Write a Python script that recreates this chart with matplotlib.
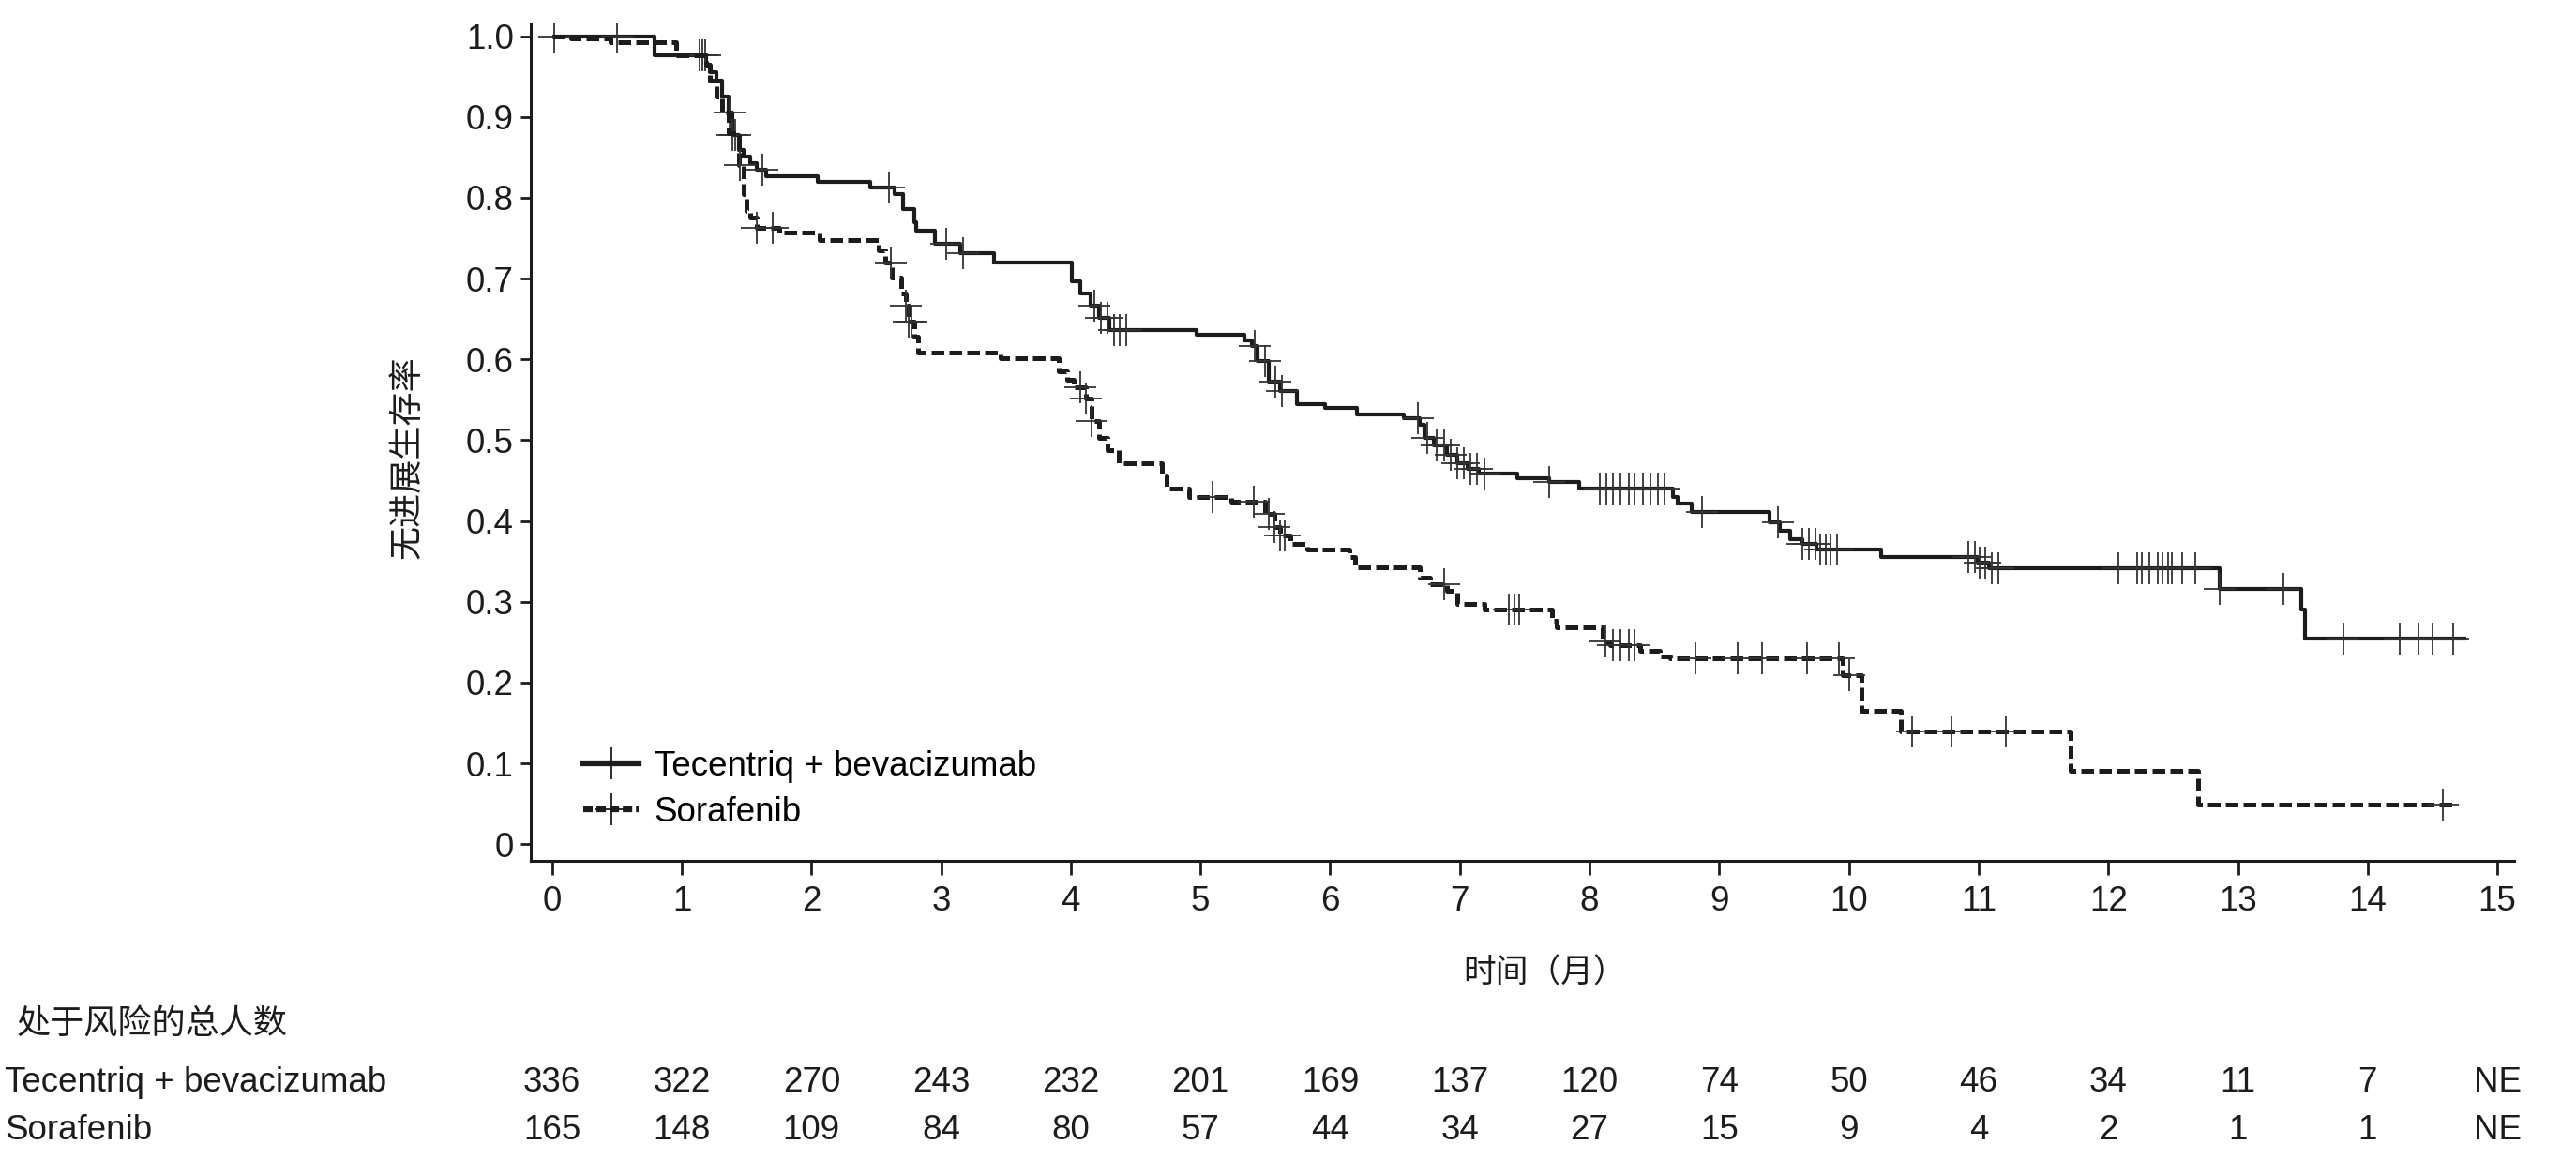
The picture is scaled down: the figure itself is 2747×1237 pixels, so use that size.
import numpy as np
import matplotlib.pyplot as plt
from matplotlib.lines import Line2D
from matplotlib import transforms

plt.rcParams['font.family'] = ['Liberation Sans', 'Noto Sans CJK SC']

# Tecentriq + bevacizumab: event times (months) and survival after each step
atezo_t = [0, 0.79, 1.19, 1.22, 1.27, 1.31, 1.36, 1.39, 1.44, 1.48, 1.53, 1.58,
           1.65, 2.05, 2.45, 2.64, 2.71, 2.79, 2.81, 2.95, 3.15, 3.41, 4.01, 4.07,
           4.15, 4.22, 4.30, 4.97, 5.34, 5.40, 5.44, 5.53, 5.61, 5.74, 5.96, 6.21,
           6.57, 6.69, 6.73, 6.80, 6.90, 6.98, 7.06, 7.15, 7.44, 7.69, 7.92, 8.64,
           8.68, 8.79, 9.39, 9.47, 9.55, 9.64, 9.75, 10.25, 10.99, 11.08, 12.86,
           13.49, 13.52]
atezo_s = [1.0, 0.976, 0.965, 0.955, 0.945, 0.925, 0.906, 0.878, 0.859, 0.851, 0.843, 0.835,
           0.827, 0.820, 0.813, 0.805, 0.786, 0.770, 0.759, 0.743, 0.731, 0.720, 0.697, 0.682,
           0.666, 0.651, 0.636, 0.630, 0.624, 0.616, 0.598, 0.572, 0.561, 0.545, 0.540, 0.532,
           0.527, 0.519, 0.503, 0.493, 0.482, 0.472, 0.464, 0.459, 0.453, 0.448, 0.440, 0.430,
           0.422, 0.411, 0.398, 0.388, 0.377, 0.372, 0.365, 0.356, 0.348, 0.341, 0.316,
           0.29, 0.254]
atezo_end = 14.76
atezo_cens = [0.02, 0.5, 1.14, 1.16, 1.18, 1.37, 1.39, 1.41, 1.62, 2.60, 3.04, 3.17,
              4.18, 4.23, 4.28, 4.33, 4.38, 4.43, 5.42, 5.5, 5.58, 5.63,
              6.68, 6.75, 6.82, 6.88, 6.93, 6.98, 7.03, 7.08, 7.13, 7.19, 7.69,
              8.08, 8.13, 8.18, 8.24, 8.3, 8.35, 8.41, 8.47, 8.53, 8.58, 8.87,
              9.45, 9.64, 9.69, 9.74, 9.78, 9.82, 9.86, 9.91,
              10.92, 10.97, 11.01, 11.05, 11.1, 11.15, 12.08, 12.22, 12.26, 12.32,
              12.38, 12.42, 12.46, 12.49, 12.57, 12.67, 12.86, 13.35, 13.81,
              14.25, 14.39, 14.5, 14.66]

# Sorafenib
sora_t = [0, 0.15, 0.45, 0.96, 1.19, 1.22, 1.27, 1.31, 1.36, 1.44, 1.48, 1.50,
          1.53, 1.58, 1.75, 2.06, 2.52, 2.57, 2.62, 2.69, 2.73, 2.75, 2.79, 2.82,
          3.46, 3.91, 3.97, 4.02, 4.12, 4.16, 4.22, 4.28, 4.37, 4.70, 4.74, 4.91,
          5.24, 5.50, 5.57, 5.61, 5.69, 5.82, 6.15, 6.19, 6.69, 6.77, 6.90, 6.98,
          7.19, 7.71, 7.75, 8.10, 8.16, 8.39, 8.54, 8.62, 9.95, 10.1, 10.4, 11.71,
          12.69]
sora_s = [1.0, 0.997, 0.993, 0.976, 0.965, 0.945, 0.925, 0.906, 0.88, 0.84, 0.804, 0.784,
          0.776, 0.763, 0.757, 0.748, 0.735, 0.72, 0.701, 0.682, 0.666, 0.647, 0.628, 0.609,
          0.601, 0.585, 0.575, 0.566, 0.551, 0.524, 0.503, 0.488, 0.472, 0.456, 0.440, 0.430,
          0.424, 0.409, 0.393, 0.382, 0.372, 0.365, 0.356, 0.343, 0.330, 0.322, 0.314, 0.298,
          0.290, 0.277, 0.269, 0.251, 0.246, 0.240, 0.233, 0.230, 0.209, 0.165, 0.14, 0.0915,
          0.049]
sora_end = 14.66
sora_cens = [1.45, 1.58, 1.70, 2.61, 2.73, 2.75, 2.77, 4.07, 4.12, 4.16, 5.09, 5.41,
             5.53, 5.57, 5.61, 5.65, 6.88, 7.38, 7.42, 7.46, 8.12, 8.18, 8.24, 8.3,
             8.35, 8.82, 9.14, 9.33, 9.68, 9.92, 10.0, 10.49, 10.79, 11.21, 14.58]

months = list(range(16))
risk_atezo = ['336', '322', '270', '243', '232', '201', '169', '137', '120',
              '74', '50', '46', '34', '11', '7', 'NE']
risk_sora = ['165', '148', '109', '84', '80', '57', '44', '34', '27',
             '15', '9', '4', '2', '1', '1', 'NE']

ink = '#1c1c1c'
fs = 26.5

fig = plt.figure(figsize=(27.47, 12.37), dpi=100)
ax = fig.add_axes([0.206, 0.258, 0.770, 0.722])


def draw_arm(t, s, end, cens, lw, ls):
    tt = list(t) + [end]
    ss = list(s) + [s[-1]]
    ax.step(tt, ss, where='post', color=ink, lw=lw, ls=ls, solid_capstyle='butt')
    idx = np.searchsorted(t, cens, side='right') - 1
    cy = np.array(s)[idx]
    ax.plot(cens, cy, ls='none', marker='+', ms=24, mew=1.3, color='#333333')


draw_arm(atezo_t, atezo_s, atezo_end, atezo_cens, 3.0, '-')
draw_arm(sora_t, sora_s, sora_end, sora_cens, 3.6, (0, (2.7, 1.1)))

ax.set_xlim(-0.165, 15.13)
ax.set_ylim(-0.0203, 1.016)
ax.set_xticks(months)
ax.set_xticklabels([str(m) for m in months])
yt = [0, 0.1, 0.2, 0.3, 0.4, 0.5, 0.6, 0.7, 0.8, 0.9, 1.0]
ax.set_yticks(yt)
ax.set_yticklabels(['0'] + ['%.1f' % v for v in yt[1:]])
ax.tick_params(axis='x', length=11, width=2, pad=8, labelsize=fs, colors=ink)
ax.tick_params(axis='y', length=8, width=2, pad=5, labelsize=fs, colors=ink)
for side in ['top', 'right']:
    ax.spines[side].set_visible(False)
for side in ['left', 'bottom']:
    ax.spines[side].set_linewidth(2.2)
    ax.spines[side].set_color(ink)

ax.set_ylabel('无进展生存率', fontsize=26, color=ink, va='center')
ax.yaxis.set_label_coords(-0.062, 0.482)
ax.set_xlabel('时间（月）', fontsize=25, color=ink, va='center')
ax.xaxis.set_label_coords(0.511, -0.135)

handles = [
    Line2D([], [], color=ink, lw=4.5, ls='-', marker='+', ms=24, mew=1.3),
    Line2D([], [], color=ink, lw=4.5, ls=(0, (1.6, 0.65)), marker='+', ms=24, mew=1.3),
]
ax.legend(handles, ['Tecentriq + bevacizumab', 'Sorafenib'], loc='center left',
          bbox_to_anchor=(0.018, 0.085), frameon=False, fontsize=fs,
          handlelength=1.6, handletextpad=0.45, labelspacing=0.4, borderpad=0)

# risk table
fig.text(0.0064, 0.116, '处于风险的总人数', fontsize=26, color=ink, va='center', ha='left')
fig.text(0.002, 0.0666, 'Tecentriq + bevacizumab', fontsize=fs, color=ink, va='center')
fig.text(0.002, 0.0255, 'Sorafenib', fontsize=fs, color=ink, va='center')
tr = transforms.blended_transform_factory(ax.transData, fig.transFigure)
for m, a, b in zip(months, risk_atezo, risk_sora):
    ax.text(m, 0.0666, a, transform=tr, ha='center', va='center', fontsize=fs, color=ink)
    ax.text(m, 0.0255, b, transform=tr, ha='center', va='center', fontsize=fs, color=ink)

fig.savefig('out.png', dpi=100)
